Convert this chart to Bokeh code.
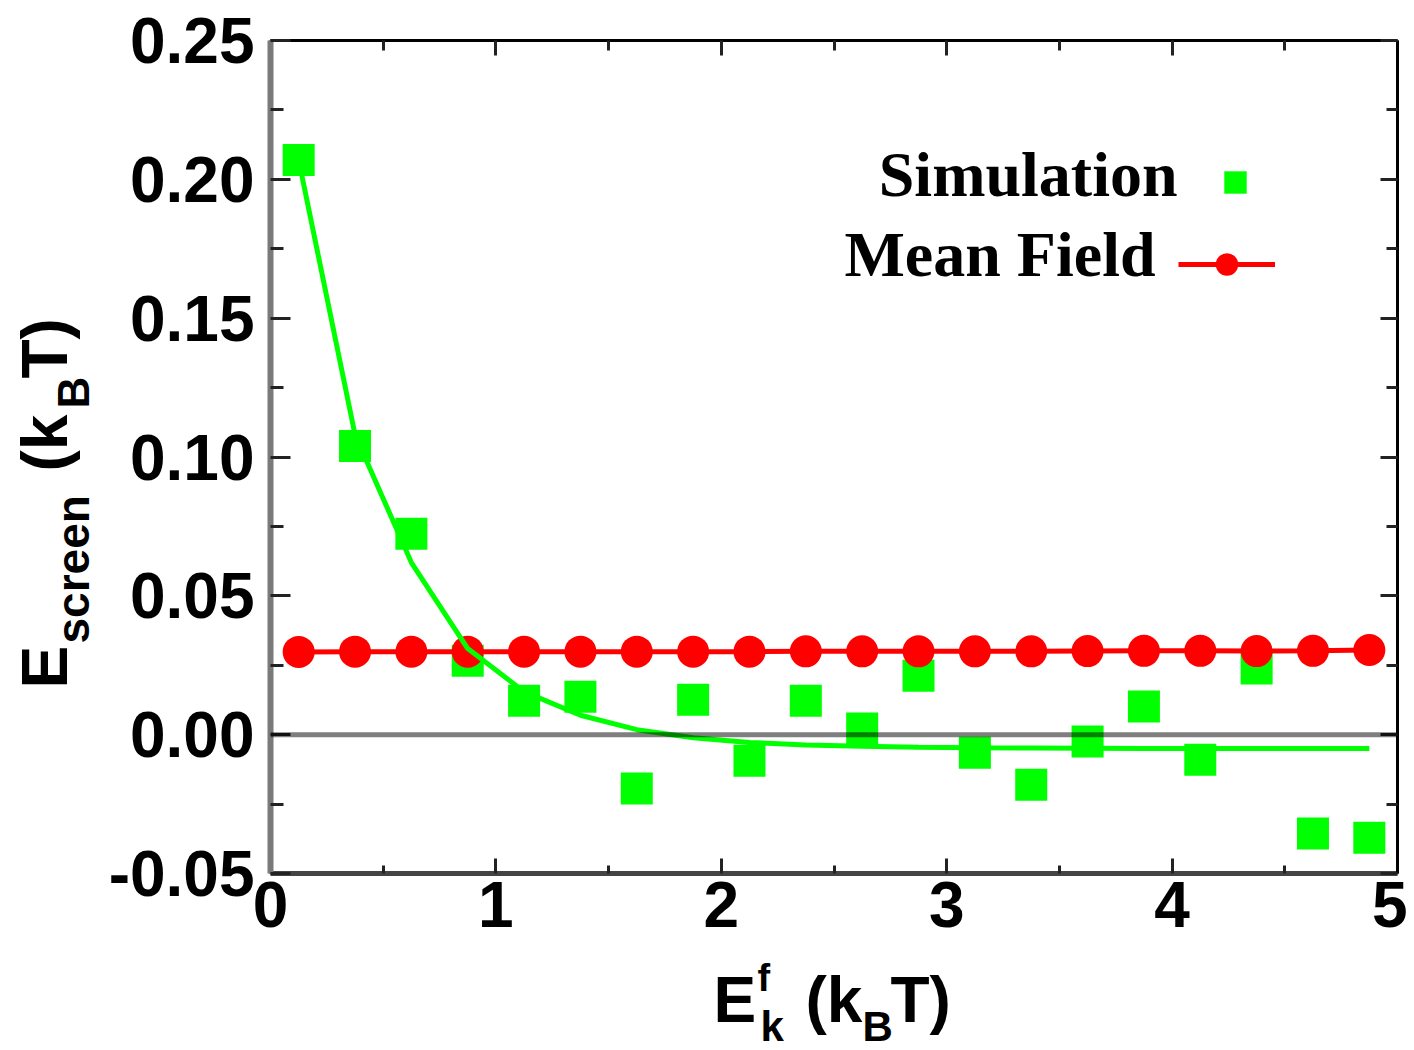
import math
from bokeh.plotting import figure
from bokeh.layouts import column, row
from bokeh.models import (Range1d, FixedTicker, PrintfTickFormatter, CustomJSTickFormatter,
                          LinearAxis, Span, Label, Legend, LegendItem)
from bokeh.core.properties import value
from bokeh.embed import file_html
from bokeh.resources import INLINE

# ---------------- data ----------------
ek = [0.125, 0.375, 0.625, 0.875, 1.125, 1.375, 1.625, 1.875, 2.125, 2.375,
      2.625, 2.875, 3.125, 3.375, 3.625, 3.875, 4.125, 4.375, 4.625, 4.875]
simulation = [0.207, 0.104, 0.0724, 0.0266, 0.0122, 0.0137, -0.0194, 0.0126, -0.0094, 0.0122,
              0.0022, 0.0212, -0.0065, -0.018, -0.0025, 0.0101, -0.009, 0.0238, -0.0356, -0.0371]
fit_curve = [0.207, 0.108, 0.062, 0.031, 0.0155, 0.007, 0.0018, -0.0011, -0.0028, -0.0037,
             -0.0042, -0.0045, -0.0047, -0.0048, -0.0049, -0.005, -0.005, -0.005, -0.005, -0.005]
mean_field = [0.0298, 0.0299, 0.0299, 0.0299, 0.0299, 0.0299, 0.0299, 0.0299, 0.0299, 0.0300,
              0.0300, 0.0300, 0.0300, 0.0300, 0.0301, 0.0302, 0.0302, 0.0301, 0.0302, 0.0305]

x_ticks = [0, 1, 2, 3, 4, 5]
x_minor = [0.5, 1.5, 2.5, 3.5, 4.5]
y_ticks = [-0.05, 0.0, 0.05, 0.10, 0.15, 0.20, 0.25]
y_minor = [-0.025, 0.025, 0.075, 0.125, 0.175, 0.225]

series_names = ["Simulation", "Mean Field"]

SANS = "Liberation Sans"
SERIF = "Liberation Serif"
GREEN = "#00ff00"
RED = "#ff0000"

YLAB_W = 100
B_TOP, B_BOT, FRAME_H = 40, 83, 833
ROW_H = B_TOP + FRAME_H + B_BOT
XLAB_H = 1050 - ROW_H

p = figure(frame_width=1127, frame_height=FRAME_H,
           min_border_left=170, min_border_right=10, min_border_top=B_TOP,
           min_border_bottom=B_BOT,
           x_range=Range1d(0, 5), y_range=Range1d(-0.05, 0.25),
           output_backend="svg", toolbar_location=None,
           x_axis_location=None, y_axis_location=None)
p.grid.visible = False
p.outline_line_color = None
p.background_fill_color = "white"
p.border_fill_color = "white"

blank = CustomJSTickFormatter(code="return ''")


def style_axis(ax, ticks, minor, color, lw, tick_in, minor_in, labels=True):
    ax.ticker = FixedTicker(ticks=ticks, minor_ticks=minor)
    ax.axis_line_color = color
    ax.axis_line_width = lw
    ax.major_tick_in = tick_in
    ax.major_tick_out = 0
    ax.minor_tick_in = minor_in
    ax.minor_tick_out = 0
    ax.major_tick_line_color = "#222222"
    ax.minor_tick_line_color = "#222222"
    ax.major_tick_line_width = 3
    ax.minor_tick_line_width = 3
    if labels:
        ax.major_label_text_font = SANS
        ax.major_label_text_font_style = "bold"
        ax.major_label_text_font_size = "64px"
        ax.major_label_text_color = "black"
    else:
        ax.formatter = blank
        ax.major_label_text_font_size = "0px"
        ax.major_label_standoff = 0


bottom = LinearAxis()
style_axis(bottom, x_ticks, x_minor, "#444444", 5, 15, 8)
bottom.major_label_standoff = 8
p.add_layout(bottom, "below")

left = LinearAxis(formatter=PrintfTickFormatter(format="%.2f"))
style_axis(left, y_ticks, y_minor, "#7a7a7a", 6, 20, 13)
left.major_label_standoff = 16
p.add_layout(left, "left")

top = LinearAxis()
style_axis(top, x_ticks, x_minor, "black", 3, 15, 10, labels=False)
p.add_layout(top, "above")

right = LinearAxis()
style_axis(right, y_ticks, y_minor, "black", 3, 17, 11, labels=False)
p.add_layout(right, "right")

# ---------------- data glyphs ----------------
sq = p.scatter(ek, simulation, marker="square", size=32, fill_color=GREEN, line_color=None)
mf_line = p.line(ek, mean_field, line_color=RED, line_width=5)
mf_pts = p.scatter(ek, mean_field, marker="circle", size=32, fill_color=RED, line_color=None)
fit = p.line(ek, fit_curve, line_color=GREEN, line_width=5)

zero = Span(location=0, dimension="width", line_color="black", line_alpha=0.5, line_width=5)
p.add_layout(zero)

# ---------------- legend (glyph to the right of its text, as in the reference) ----------------
common_leg = dict(label_text_font_size="1px", label_standoff=0, label_width=0, label_height=0,
                  padding=0, margin=0, spacing=0, border_line_color=None,
                  background_fill_alpha=0)
leg_sim = Legend(items=[LegendItem(label=" ", renderers=[sq])],
                 location=(937, 663), glyph_width=56, glyph_height=56, **common_leg)
leg_mf = Legend(items=[LegendItem(label=" ", renderers=[mf_line, mf_pts])],
                location=(908, 581), glyph_width=97, glyph_height=56, **common_leg)
p.add_layout(leg_sim)
p.add_layout(leg_mf)

legend_text = dict(x_units="screen", y_units="screen", text_font=SERIF, text_font_style="bold",
                   text_font_size="64px", text_color="black", text_align="right",
                   text_baseline="alphabetic")
p.add_layout(Label(x=907, y=699, text=series_names[0], **legend_text))
p.add_layout(Label(x=885, y=619, text=series_names[1], **legend_text))


# ---------------- axis titles (separate blank panels, real text) ----------------
def blank_fig(w, h, y_end, top=0, bot=0):
    f = figure(width=w, height=h, x_range=Range1d(0, w), y_range=Range1d(0, y_end),
               min_border_left=0, min_border_right=0, min_border_top=top, min_border_bottom=bot,
               output_backend="svg", toolbar_location=None,
               x_axis_location=None, y_axis_location=None)
    f.grid.visible = False
    f.outline_line_color = None
    f.background_fill_color = "white"
    f.border_fill_color = "white"
    return f


def pieces(f, xs, ys, texts, sizes, angle=0.0):
    for x, y, t, s in zip(xs, ys, texts, sizes):
        f.text(x=[x], y=[y], text=[t], text_font=value(SANS), text_font_style="bold",
               text_font_size=s, text_color="black", text_align="left",
               text_baseline="alphabetic", angle=angle)


# x title:  E^f_k (k_B T)
xlab = blank_fig(YLAB_W + 1307, XLAB_H, XLAB_H)
pieces(xlab,
       [713, 757, 760, 805, 862, 890],
       [51, 73, 24, 51, 24, 51],
       ["E", "f", "k", "(k", "B", "T)"],
       ["64px", "38px", "42px", "64px", "42px", "64px"])

# y title:  E_screen (k_B T), rotated (frame aligned with the main plot's frame)
ylab = blank_fig(YLAB_W, ROW_H, FRAME_H, top=B_TOP, bot=B_BOT)
pieces(ylab,
       [44, 72, 44, 73, 44],
       [185, 230, 402, 465, 495],
       ["E", "screen", "(k", "B", "T)"],
       ["64px", "46px", "64px", "44px", "64px"],
       angle=math.pi / 2)

layout = column(row(ylab, p), xlab)
open("out.html", "w").write(file_html(layout, INLINE))
